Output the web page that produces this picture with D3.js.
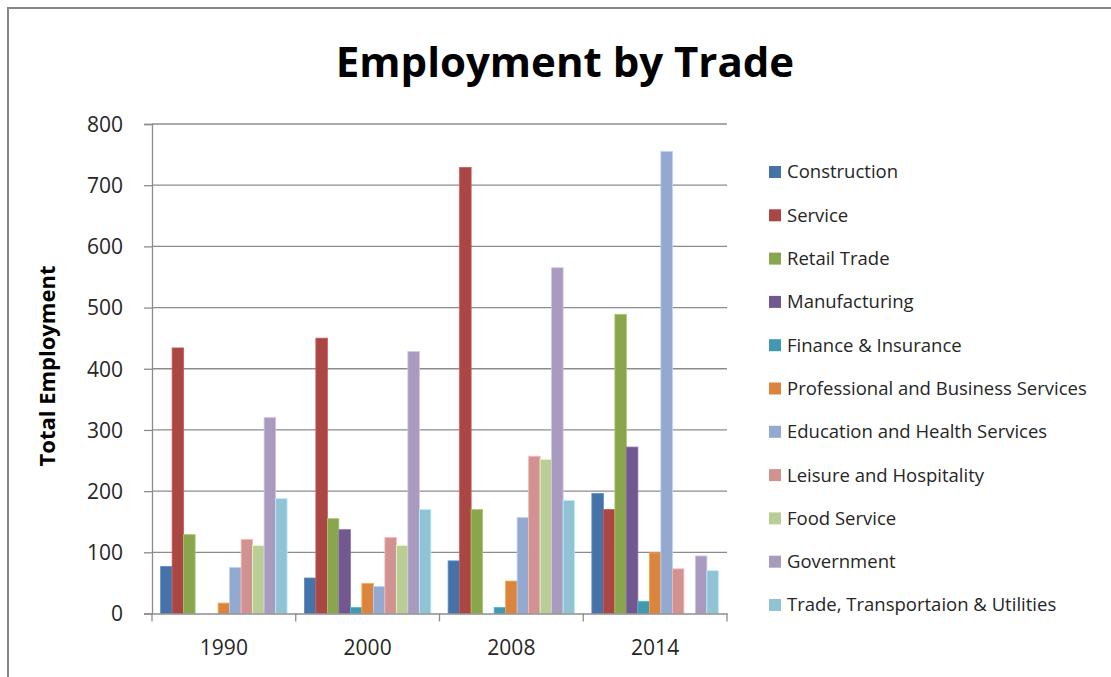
<!DOCTYPE html>
<html>
<head>
<meta charset="utf-8">
<script src="https://cdn.jsdelivr.net/npm/d3@7"></script>
<style>
  body { margin: 0; background: #fff; }
  svg { display: block; font-family: "Open Sans", sans-serif; }
</style>
</head>
<body>
<svg width="1111" height="677"></svg>
<script>
// Data
const years = ["1990", "2000", "2008", "2014"];
const trades = ["Construction", "Service", "Retail Trade", "Manufacturing", "Finance & Insurance",
  "Professional and Business Services", "Education and Health Services", "Leisure and Hospitality",
  "Food Service", "Government", "Trade, Transportaion & Utilities"];
const construction = [77, 58, 86, 196];
const service = [434, 450, 729, 170];
const retail = [129, 155, 170, 489];
const manufacturing = [null, 137, null, 272];
const finance = [null, 10, 10, 20];
const professional = [17, 49, 53, 99];
const education = [75, 44, 157, 755];
const leisure = [121, 124, 257, 73];
const food = [111, 111, 252, null];
const government = [320, 428, 565, 94];
const transport = [188, 170, 185, 70];
const yTicks = [0, 100, 200, 300, 400, 500, 600, 700, 800];

const seriesValues = [construction, service, retail, manufacturing, finance, professional,
  education, leisure, food, government, transport];
const colors = ["#4572A7", "#AA4643", "#89A54E", "#71588F", "#4198AF", "#DB843D",
  "#93A9CF", "#D19392", "#B9CD96", "#A99BBD", "#92C3D5"];

const svg = d3.select("svg");

// outer chart border (left and top only show in the shot)
svg.append("path")
    .attr("d", "M8,677 V8 H1111")
    .attr("fill", "none")
    .attr("stroke", "#878787")
    .attr("stroke-width", 2);

const margin = {left: 152, right: 384, top: 124, bottom: 63.5};
const plotW = 1111 - margin.left - margin.right,
      plotH = 677 - margin.top - margin.bottom;

const g = svg.append("g").attr("transform", `translate(${margin.left},${margin.top})`);

const x0 = d3.scaleBand().domain(years).range([0, plotW]).padding(0);
const x1 = d3.scaleBand().domain(trades)
    .range([x0.bandwidth() * 0.06, x0.bandwidth() * 0.94]);
const y = d3.scaleLinear().domain([0, 800]).range([plotH, 0]);
const color = d3.scaleOrdinal().domain(trades).range(colors);

// gridlines
g.append("g")
    .selectAll("line")
    .data(yTicks.slice(1))
    .join("line")
    .attr("x1", 0).attr("x2", plotW)
    .attr("y1", d => y(d)).attr("y2", d => y(d))
    .attr("stroke", "#8c8c8c")
    .attr("stroke-width", 1.3);

// y axis
const yAxis = g.append("g")
    .call(d3.axisLeft(y).tickValues(yTicks).tickSize(8).tickPadding(21))
    .attr("font-family", "Open Sans, sans-serif");
yAxis.select(".domain").attr("stroke", "#8c8c8c").attr("stroke-width", 1.3);
yAxis.selectAll(".tick line").attr("stroke", "#8c8c8c").attr("stroke-width", 1.3);
yAxis.selectAll("text")
    .attr("fill", "#262626")
    .style("font-size", "21px")
    .attr("dy", "0.35em");

// bars
const rows = [];
years.forEach((yr, i) => {
    trades.forEach((t, j) => {
        const v = seriesValues[j][i];
        if (v != null) rows.push({year: yr, trade: t, value: v});
    });
});

g.append("g")
    .selectAll("rect")
    .data(rows)
    .join("rect")
    .attr("x", d => x0(d.year) + x1(d.trade))
    .attr("y", d => y(d.value))
    .attr("width", x1.bandwidth())
    .attr("height", d => y(0) - y(d.value))
    .attr("fill", d => color(d.trade))
    .attr("stroke", d => d3.color(color(d.trade)).brighter(0.6))
    .attr("stroke-width", 0.8);

// x axis
const xAxis = g.append("g")
    .attr("transform", `translate(0,${plotH})`)
    .call(d3.axisBottom(x0).tickSize(0).tickPadding(27))
    .attr("font-family", "Open Sans, sans-serif");
xAxis.select(".domain").attr("stroke", "#8c8c8c").attr("stroke-width", 1.3);
xAxis.selectAll("text")
    .attr("fill", "#262626")
    .style("font-size", "21px");
// category separator ticks
xAxis.append("g")
    .selectAll("line")
    .data(years.concat(["end"]))
    .join("line")
    .attr("x1", (d, i) => i * x0.step())
    .attr("x2", (d, i) => i * x0.step())
    .attr("y1", 0).attr("y2", 8)
    .attr("stroke", "#8c8c8c")
    .attr("stroke-width", 1.3);

// title
svg.append("text")
    .attr("x", 565)
    .attr("y", 77)
    .attr("text-anchor", "middle")
    .style("font-size", "42px")
    .style("font-weight", "bold")
    .attr("fill", "#000")
    .text("Employment by Trade");

// y axis title
svg.append("text")
    .attr("transform", "translate(55,366) rotate(-90)")
    .attr("text-anchor", "middle")
    .style("font-size", "22px")
    .style("font-weight", "bold")
    .attr("fill", "#000")
    .text("Total Employment");

// legend
const legend = svg.append("g").attr("transform", "translate(769,172)");
const item = legend.selectAll("g")
    .data(trades)
    .join("g")
    .attr("transform", (d, i) => `translate(0,${i * 43.3})`);
item.append("rect")
    .attr("x", 0).attr("y", -6)
    .attr("width", 12).attr("height", 12)
    .attr("fill", d => color(d));
item.append("text")
    .attr("x", 18)
    .attr("dy", "0.35em")
    .style("font-size", "18.5px")
    .attr("fill", "#262626")
    .text(d => d);
</script>
</body>
</html>
